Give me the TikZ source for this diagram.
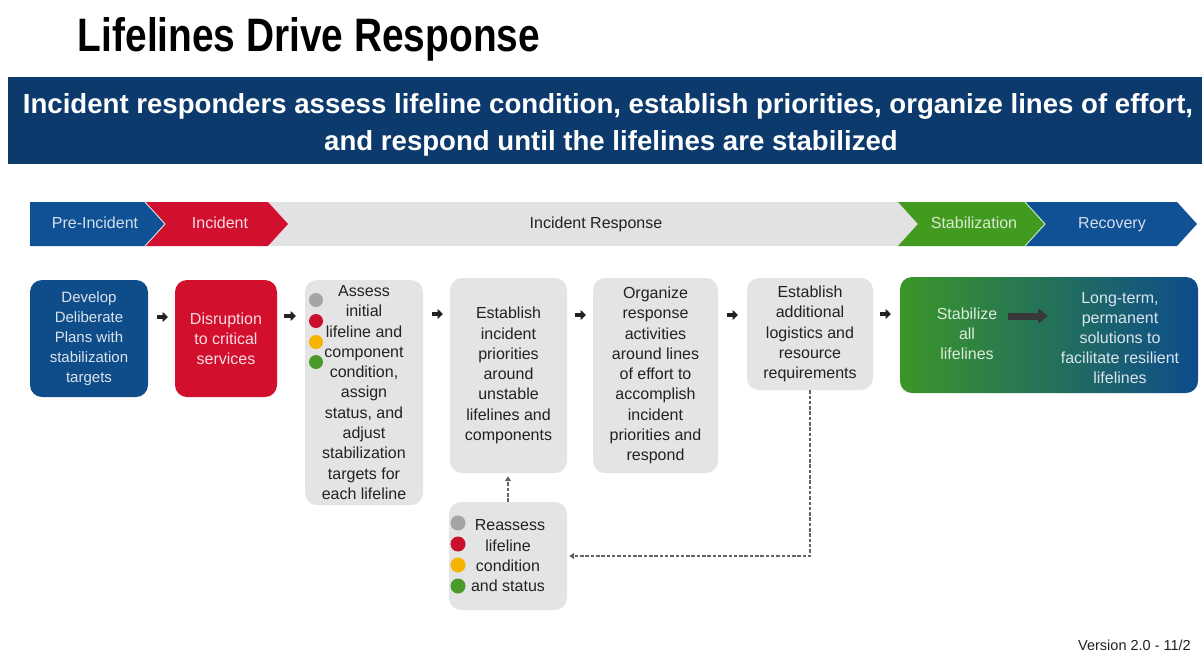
\documentclass[tikz,border=0pt]{standalone}
\usepackage{fontspec}
\usepackage{graphicx}
\setmainfont{Liberation Sans}
\usetikzlibrary{arrows.meta}

\definecolor{navy}{RGB}{13,58,108}
\definecolor{phblue}{RGB}{16,80,148}
\definecolor{phred}{RGB}{208,16,46}
\definecolor{phgreen}{RGB}{66,155,30}
\definecolor{bargrey}{RGB}{226,226,226}
\definecolor{boxgrey}{RGB}{228,228,228}
\definecolor{boxblue}{RGB}{14,76,138}
\definecolor{boxred}{RGB}{210,16,46}
\definecolor{gradgreen}{RGB}{58,150,40}
\definecolor{gradmid}{RGB}{40,130,70}
\definecolor{gradblue}{RGB}{13,76,140}
\definecolor{dotgrey}{RGB}{165,165,165}
\definecolor{dotred}{RGB}{200,16,46}
\definecolor{dotyellow}{RGB}{246,180,0}
\definecolor{dotgreen}{RGB}{76,154,42}
\definecolor{ink}{RGB}{34,34,34}
\definecolor{dashgrey}{RGB}{100,100,100}

\tikzset{
  phaselabel/.style={inner sep=0, text height=11.5pt, text depth=3.5pt,
                     font=\fontsize{16}{19}\selectfont},
  stepbox/.style={rounded corners=12pt, inner sep=0, align=center},
  greybox/.style={stepbox, fill=boxgrey, text=ink, font=\fontsize{16}{20.3}\selectfont},
  dotmark/.style={circle, inner sep=0, minimum size=#1},
  smallarr/.style={draw=ink, line width=4pt, -{Triangle[length=5.5pt,width=10pt]}},
  bigarr/.style={draw=ink!90, line width=7pt, -{Triangle[length=10pt,width=15pt]}},
  dashconn/.style={draw=dashgrey, line width=1.6pt, dash pattern=on 3.5pt off 1.8pt,
                   -{Triangle[length=5pt,width=6pt]}},
}

\begin{document}
\begin{tikzpicture}[x=1pt,y=-1pt]
\useasboundingbox (0,0) rectangle (1202,654);
\fill[white] (0,0) rectangle (1202,654);

% heading
\node[anchor=base, inner sep=0] (title) at (309,51)
  {\resizebox{462pt}{34pt}{\bfseries Lifelines Drive Response}};

% banner
\fill[navy] (8,77) rectangle (1210,164);
\node[anchor=base, inner sep=0, text=white, font=\fontsize{27.6}{30}\selectfont\bfseries] (head1) at (608,113)
  {Incident responders assess lifeline condition, establish priorities, organize lines of effort,};
\node[anchor=base, inner sep=0, text=white, font=\fontsize{27.6}{30}\selectfont\bfseries] (head2) at (611,150)
  {and respond until the lifelines are stabilized};

% phase bar
\fill[bargrey] (270,202) rectangle (920,246);
\fill[phblue] (30,202) -- (145,202) -- (165,224) -- (145,246) -- (30,246) -- cycle;
\fill[phred] (145,202) -- (268,202) -- (288,224) -- (268,246) -- (145,246) -- (165,224) -- cycle;
\draw[white!80!phblue, line width=1pt] (145,202) -- (165,224) -- (145,246);
\fill[phgreen] (898,202) -- (1025,202) -- (1045,224) -- (1025,246) -- (898,246) -- (918,224) -- cycle;
\fill[phblue] (1025,202) -- (1177,202) -- (1197,224) -- (1177,246) -- (1025,246) -- (1045,224) -- cycle;
\draw[white!70!phgreen, line width=1pt] (1025,202) -- (1045,224) -- (1025,246);

\node[phaselabel, text=white!82!phblue] (pPre) at (95,224) {Pre-Incident};
\node[phaselabel, text=white!85!phred] (pInc) at (220,224) {Incident};
\node[phaselabel, text=ink] (pResp) at (596,224) {Incident Response};
\node[phaselabel, text=white!80!phgreen] (pStab) at (974,224) {Stabilization};
\node[phaselabel, text=white!82!phblue] (pRec) at (1112,224) {Recovery};

% step boxes
\node[stepbox, fill=boxblue, text=white!85!boxblue, font=\fontsize{15}{20}\selectfont,
      minimum width=118pt, minimum height=117pt] (dev) at (89,338.5)
  {Develop\\Deliberate\\Plans with\\stabilization\\targets};
\node[stepbox, fill=boxred, text=white!85!boxred, font=\fontsize{16}{20}\selectfont,
      minimum width=102pt, minimum height=117pt] (dis) at (226,338.5)
  {Disruption\\to critical\\services};
\node[greybox, minimum width=118pt, minimum height=225pt] (assess) at (364,392.5)
  {Assess\\initial\\lifeline and\\component\\condition,\\assign\\status, and\\adjust\\stabilization\\targets for\\each lifeline};
\node[greybox, minimum width=117pt, minimum height=195pt] (estab) at (508.5,375.5)
  {Establish\\incident\\priorities\\around\\unstable\\lifelines and\\components};
\node[greybox, minimum width=125pt, minimum height=195pt] (organize) at (655.5,375.5)
  {Organize\\response\\activities\\around lines\\of effort to\\accomplish\\incident\\priorities and\\respond};
\node[greybox, minimum width=126pt, minimum height=112pt] (addl) at (810,334)
  {Establish\\additional\\logistics and\\resource\\requirements};
\node[greybox, minimum width=118pt, minimum height=108pt] (reassess) at (508,556)
  {\hspace*{4pt}Reassess\\lifeline\\condition\\and status};

% stabilization / recovery panel
\node[stepbox, left color=gradgreen, middle color=gradmid, right color=gradblue,
      minimum width=298pt, minimum height=116pt] (outcome) at (1049,335) {};
\node[inner sep=0, align=center, text=white!82!gradgreen, font=\fontsize{16}{20}\selectfont] (stab) at (967,334)
  {Stabilize\\all\\lifelines};
\node[inner sep=0, align=center, text=white!85!gradblue, font=\fontsize{16}{20}\selectfont] (longterm) at (1120,338)
  {Long-term,\\permanent\\solutions to\\facilitate resilient\\lifelines};
\coordinate (bigS) at (1008,316);
\coordinate (bigE) at (1048,316);
\draw[bigarr] (bigS) -- (bigE);

% status dots
\node[dotmark=14pt, fill=dotgrey]   (ad1) at (316,300) {};
\node[dotmark=14pt, fill=dotred]    (ad2) at (316,321) {};
\node[dotmark=14pt, fill=dotyellow] (ad3) at (316,342) {};
\node[dotmark=14pt, fill=dotgreen]  (ad4) at (316,362) {};
\node[dotmark=15pt, fill=dotgrey]   (rd1) at (458,523) {};
\node[dotmark=15pt, fill=dotred]    (rd2) at (458,544) {};
\node[dotmark=15pt, fill=dotyellow] (rd3) at (458,565) {};
\node[dotmark=15pt, fill=dotgreen]  (rd4) at (458,586) {};

% flow arrows between the steps
\coordinate (a1s) at (157,317); \coordinate (a1e) at (168,317);
\coordinate (a2s) at (284,316); \coordinate (a2e) at (296,316);
\coordinate (a3s) at (432,314); \coordinate (a3e) at (443,314);
\coordinate (a4s) at (575,315); \coordinate (a4e) at (586,315);
\coordinate (a5s) at (727,315); \coordinate (a5e) at (738,315);
\coordinate (a6s) at (880,314); \coordinate (a6e) at (891,314);
\draw[smallarr] (a1s) -- (a1e);
\draw[smallarr] (a2s) -- (a2e);
\draw[smallarr] (a3s) -- (a3e);
\draw[smallarr] (a4s) -- (a4e);
\draw[smallarr] (a5s) -- (a5e);
\draw[smallarr] (a6s) -- (a6e);

% feedback loop
\draw[dashconn] (addl.south) |- ([xshift=2pt]reassess.east);
\draw[dashconn, shorten >=3pt] (reassess.north) -- (reassess.north |- estab.south);

% footer
\node[anchor=base west, inner sep=0, text=ink, font=\fontsize{14.5}{17}\selectfont] (version) at (1078,650)
  {Version 2.0 - 11/2};
\end{tikzpicture}
\end{document}
